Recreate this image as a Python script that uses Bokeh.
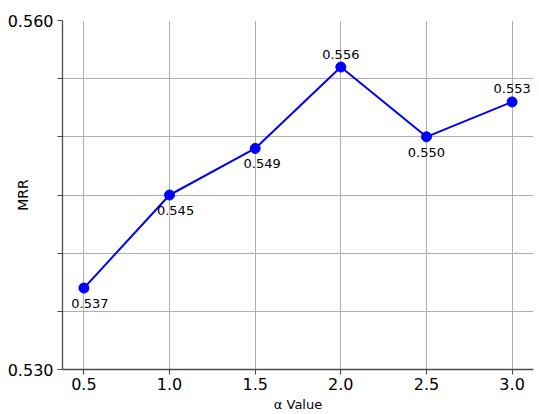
from bokeh.plotting import figure
from bokeh.models import FixedTicker, Range1d, ColumnDataSource, PrintfTickFormatter
from bokeh.embed import file_html
from bokeh.resources import INLINE
from bokeh.core.properties import value

# ---- data ----
alpha = [0.5, 1.0, 1.5, 2.0, 2.5, 3.0]
mrr = [0.537, 0.545, 0.549, 0.556, 0.550, 0.553]
point_labels = ["0.537", "0.545", "0.549", "0.556", "0.550", "0.553"]
label_side = ["below", "below", "below", "above", "below", "above"]
x_ticks = [0.5, 1.0, 1.5, 2.0, 2.5, 3.0]
y_major_ticks = [0.530, 0.560]
y_minor_ticks = [0.535, 0.540, 0.545, 0.550, 0.555]

# ---- style ----
label_dx = [6, 6, 7, 0, 0, 0]
FONT = "DejaVu Sans"
AXIS_COLOR = "#4a4a4a"
GRID_COLOR = "#b0b0b0"

p = figure(width=539, height=414, output_backend="svg", toolbar_location=None,
           x_range=Range1d(0.375, 3.125), y_range=Range1d(0.530, 0.560),
           min_border_left=62, min_border_right=6, min_border_top=20,
           min_border_bottom=43)
p.outline_line_color = None
p.background_fill_color = "white"
p.border_fill_color = "white"

# axes
p.xaxis.ticker = FixedTicker(ticks=x_ticks)
p.yaxis.ticker = FixedTicker(ticks=y_major_ticks, minor_ticks=y_minor_ticks)
p.xaxis.formatter = PrintfTickFormatter(format="%.1f")
p.yaxis.formatter = PrintfTickFormatter(format="%.3f")
for ax in (p.xaxis[0], p.yaxis[0]):
    ax.axis_line_color = AXIS_COLOR
    ax.axis_line_width = 1.3
    ax.major_tick_line_color = AXIS_COLOR
    ax.minor_tick_line_color = AXIS_COLOR
    ax.major_tick_line_width = 1.1
    ax.minor_tick_line_width = 1.1
    ax.major_tick_out = 5
    ax.major_tick_in = 0
    ax.major_label_text_font = FONT
    ax.major_label_text_font_size = "16px"
    ax.major_label_text_color = "black"
    ax.axis_label_text_font = FONT
    ax.axis_label_text_font_style = "normal"
    ax.axis_label_text_color = "black"

p.xaxis.axis_label_text_font_size = "13px"
p.yaxis.axis_label_text_font_size = "14px"
p.xaxis.minor_tick_out = 0
p.xaxis.minor_tick_in = 0
p.yaxis.minor_tick_out = 5
p.yaxis.minor_tick_in = 0
p.xaxis.major_label_standoff = 3
p.yaxis.major_label_standoff = 4
p.xaxis.axis_label = "α Value"
p.yaxis.axis_label = "MRR"
p.xaxis.axis_label_standoff = 4
p.yaxis.axis_label_standoff = -26

# grid
p.xgrid.grid_line_color = GRID_COLOR
p.ygrid.grid_line_color = GRID_COLOR
p.xgrid.grid_line_width = 1
p.ygrid.grid_line_width = 1
p.ygrid.minor_grid_line_color = GRID_COLOR
p.ygrid.minor_grid_line_width = 1

src = ColumnDataSource(dict(x=alpha, y=mrr))
p.line("x", "y", source=src, line_color="#0000ff", line_width=2)
p.scatter("x", "y", source=src, size=10, fill_color="#0000ff", line_color="#0000ff")

below = [i for i, s in enumerate(label_side) if s == "below"]
above = [i for i, s in enumerate(label_side) if s == "above"]
src_b = ColumnDataSource(dict(x=[alpha[i] for i in below], y=[mrr[i] for i in below],
                              t=[point_labels[i] for i in below],
                              dx=[label_dx[i] for i in below]))
src_a = ColumnDataSource(dict(x=[alpha[i] for i in above], y=[mrr[i] for i in above],
                              t=[point_labels[i] for i in above],
                              dx=[label_dx[i] for i in above]))
p.text("x", "y", text="t", source=src_b, text_align="center", text_baseline="top",
       x_offset="dx", y_offset=11, text_font=value(FONT), text_font_size="13px",
       text_color="black")
p.text("x", "y", text="t", source=src_a, text_align="center", text_baseline="alphabetic",
       x_offset="dx", y_offset=-13, text_font=value(FONT), text_font_size="13px",
       text_color="black")

open("out.html", "w").write(file_html(p, INLINE))
